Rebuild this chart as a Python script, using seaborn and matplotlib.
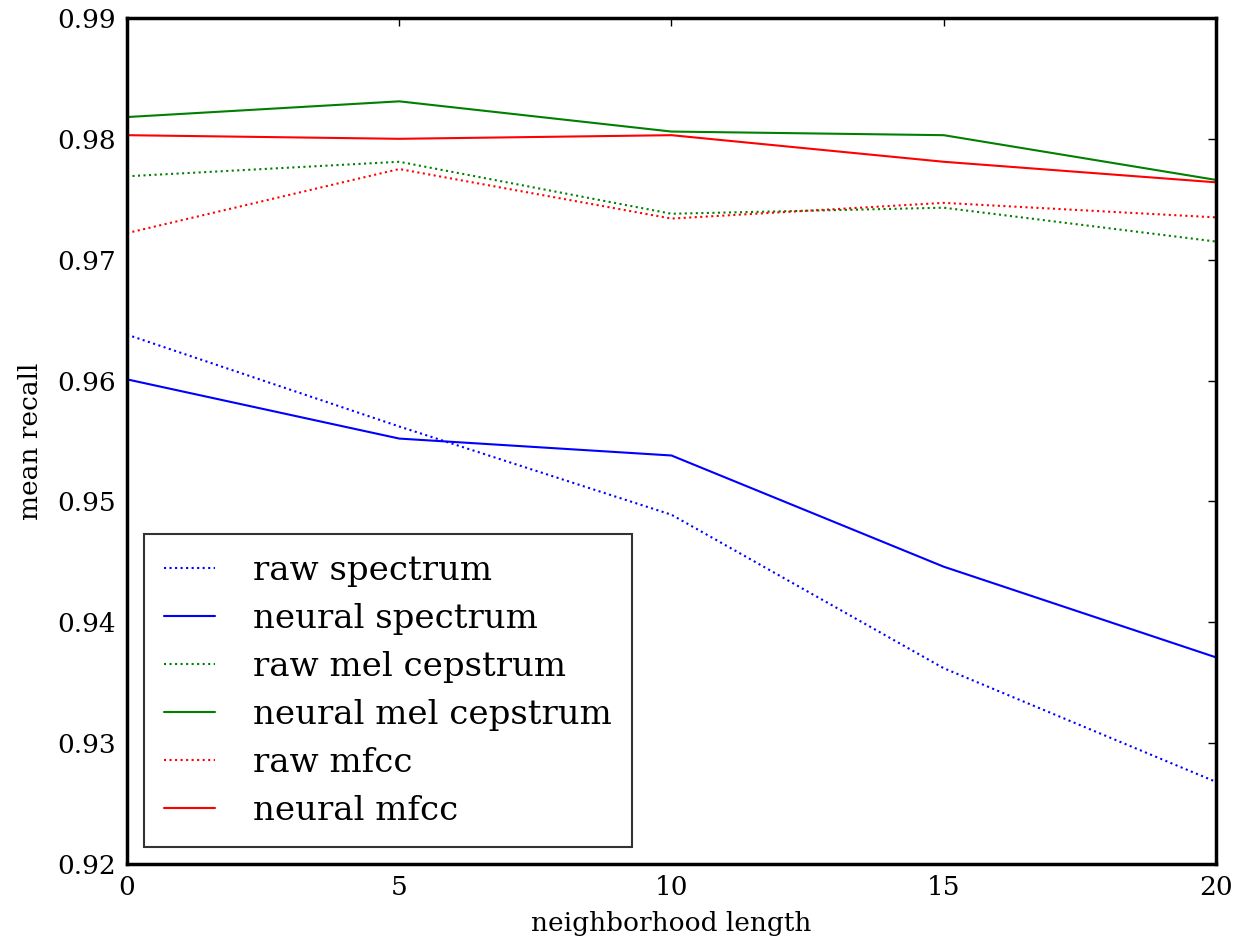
import numpy as np
import pandas as pd
import seaborn as sns
import matplotlib.pyplot as plt

# neighborhood lengths
x_vals = [0, 5, 10, 15, 20]

raw_spectrum = [0.9638, 0.9562, 0.9489, 0.9362, 0.9268]
neural_spectrum = [0.9601, 0.9552, 0.9538, 0.9446, 0.9371]
raw_mel = [0.9769, 0.9781, 0.9738, 0.9743, 0.9715]
neural_mel = [0.9818, 0.9831, 0.9806, 0.9803, 0.9766]
raw_mfcc = [0.9722, 0.9775, 0.9734, 0.9747, 0.9735]
neural_mfcc = [0.9803, 0.9800, 0.9803, 0.9781, 0.9764]

series_names = ['raw spectrum', 'neural spectrum', 'raw mel cepstrum',
                'neural mel cepstrum', 'raw mfcc', 'neural mfcc']
series_vals = [raw_spectrum, neural_spectrum, raw_mel, neural_mel, raw_mfcc, neural_mfcc]
colors = ['blue', 'blue', 'green', 'green', 'red', 'red']
styles = [':', '-', ':', '-', ':', '-']


def main():
	sns.set_style('white')
	plt.rcParams['font.family'] = ['DejaVu Serif']
	for k in ['text.color', 'axes.labelcolor', 'xtick.color', 'ytick.color']:
		plt.rcParams[k] = 'black'

	rows = []
	for name, vals in zip(series_names, series_vals):
		for xv, yv in zip(x_vals, vals):
			rows.append({'neighborhood length': xv, 'mean recall': yv, 'series': name})
	df = pd.DataFrame(rows)

	fig = plt.figure(figsize=(12.35, 9.44), dpi=100)
	ax = fig.add_axes([0.1028, 0.0847, 0.8818, 0.8963])

	for name, c, ls in zip(series_names, colors, styles):
		sub = df[df['series'] == name]
		sns.lineplot(data=sub, x='neighborhood length', y='mean recall', ax=ax,
		             color=c, linestyle=ls, linewidth=1.5, label=name)

	ax.set_xlim(0, 20)
	ax.set_ylim(0.92, 0.99)
	ax.set_xticks([0, 5, 10, 15, 20])
	ax.set_yticks(np.round(np.arange(0.92, 0.991, 0.01), 2))
	ax.set_yticklabels(['%.2f' % v for v in np.arange(0.92, 0.991, 0.01)])
	ax.tick_params(direction='in', length=6, width=1, top=True, right=True,
	               labelsize=19, pad=8, colors='black')
	for s in ax.spines.values():
		s.set_linewidth(2.5)
		s.set_color('black')
	ax.set_xlabel('neighborhood length', fontsize=19, labelpad=8)
	ax.set_ylabel('mean recall', fontsize=19, labelpad=10)

	leg = ax.legend(loc='lower left', fontsize=24.5, borderaxespad=0.5,
	                frameon=True, fancybox=False, handlelength=1.5,
	                handletextpad=1.1, borderpad=0.6, labelspacing=0.47)
	leg.get_frame().set_edgecolor('black')
	leg.get_frame().set_linewidth(1.5)
	for t in leg.get_texts():
		t.set_color('black')

	fig.savefig('out.png', dpi=100)
	plt.close(fig)


if __name__ == '__main__':
	main()
